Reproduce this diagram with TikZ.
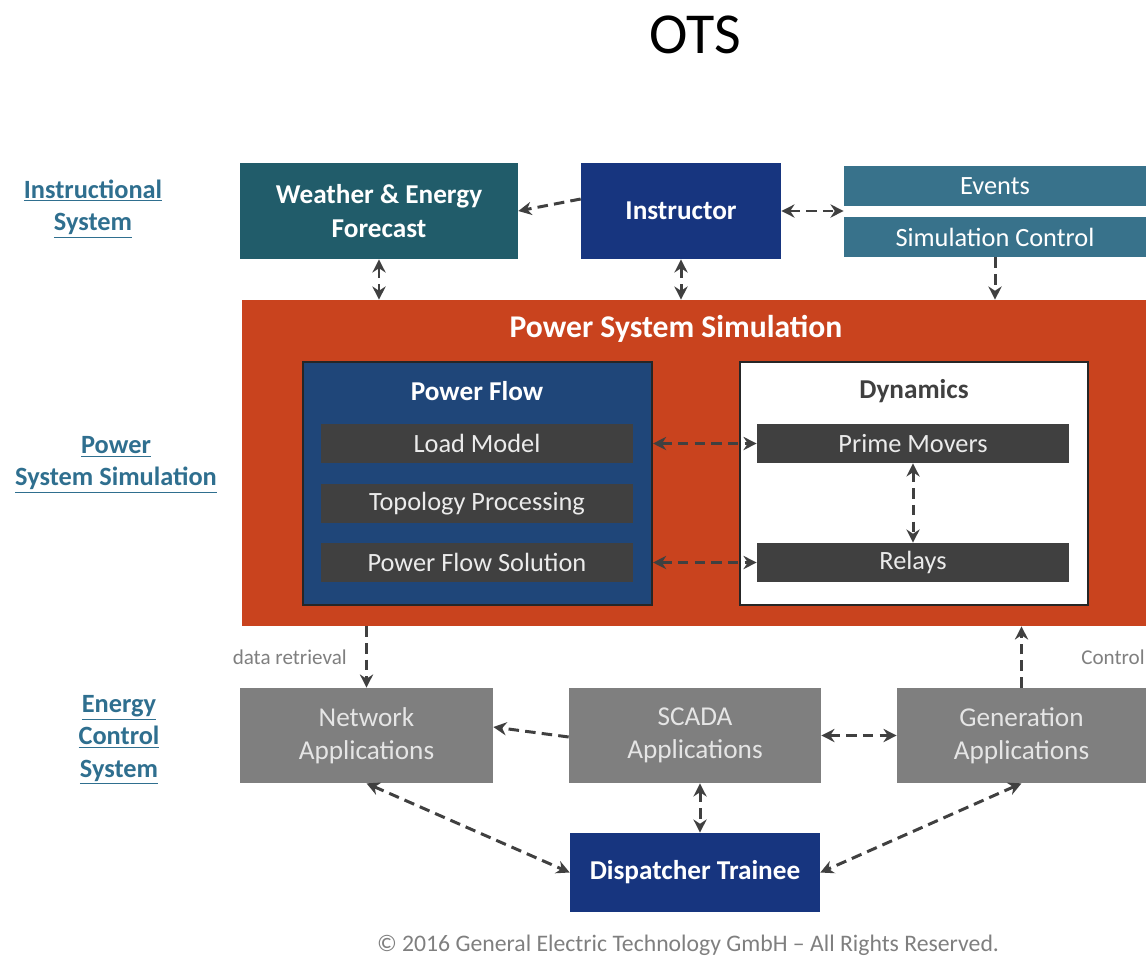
\documentclass[tikz,border=0pt]{standalone}
\usepackage{fontspec}
\setmainfont{Carlito}
\usetikzlibrary{arrows.meta}
\definecolor{wfteal}{HTML}{215C6A}
\definecolor{instblue}{HTML}{17357F}
\definecolor{evteal}{HTML}{38728B}
\definecolor{pssorange}{HTML}{C9431E}
\definecolor{pfblue}{HTML}{1F4679}
\definecolor{darkgray}{HTML}{404040}
\definecolor{appgray}{HTML}{7F7F7F}
\definecolor{sidelabel}{HTML}{2F6F8F}
\tikzset{
  block/.style={rectangle, inner sep=0pt, align=center, text=white, font=\fontsize{15.5}{19}\selectfont\bfseries},
  bar/.style={rectangle, inner sep=0pt, fill=darkgray, text=white!92!black, minimum width=6.24cm, minimum height=0.78cm, font=\fontsize{15}{18}\selectfont},
  app/.style={rectangle, inner sep=0pt, align=center, fill=appgray, text=white!90!black, minimum height=1.9cm, font=\fontsize{15.5}{19}\selectfont},
  side/.style={align=center, text=sidelabel, font=\fontsize{15}{18.5}\selectfont\bfseries},
  link/.style={draw=darkgray, line width=1.7pt, dash pattern=on 6pt off 3.5pt},
  both/.style={link, {Stealth[length=7.5pt,width=7.5pt]}-{Stealth[length=7.5pt,width=7.5pt]}},
  one/.style={link, -{Stealth[length=7.5pt,width=7.5pt]}},
  note/.style={text=appgray, font=\fontsize{12}{14}\selectfont}
}
\begin{document}
\begin{tikzpicture}[x=0.02cm, y=-0.02cm]
  \useasboundingbox (0,0) rectangle (1146,960);
  \node (title) at (695,35) {\fontsize{33}{38}\selectfont OTS};

  % side labels
  \node[side] (lbl1) at (93,209) {\underline{Instructional}\\\underline{System}};
  \node[side] (lbl2) at (116,465) {\underline{Power}\\\underline{System Simulation}};
  \node[side] (lbl3) at (119,740) {\underline{Energy}\\\underline{Control}\\\underline{System}};

  % instructional system
  \node[block, fill=wfteal, minimum width=5.56cm, minimum height=1.92cm] (weather) at (379,211) {Weather \& Energy\\Forecast};
  \node[block, fill=instblue, minimum width=4cm, minimum height=1.92cm] (instr) at (681,211) {Instructor};
  \node[block, fill=evteal, minimum width=6.04cm, minimum height=0.8cm, font=\fontsize{15}{18}\selectfont] (events) at (995,186) {Events};
  \node[block, fill=evteal, minimum width=6.04cm, minimum height=0.8cm, font=\fontsize{15}{18}\selectfont] (simctrl) at (995,237) {Simulation Control};

  % power system simulation
  \node[block, fill=pssorange, minimum width=18.08cm, minimum height=6.52cm] (pss) at (694,463) {};
  \node[block] (psstitle) at (676,329) {\fontsize{18}{22}\selectfont Power System Simulation};
  \node[block, fill=pfblue, draw=black!85, line width=1.2pt, minimum width=6.98cm, minimum height=4.86cm] (pflow) at (477.5,483.5) {};
  \node[block] (pftitle) at (477,391) {Power Flow};
  \node[bar] (load) at (477,443.5) {Load Model};
  \node[bar] (topo) at (477,503.5) {Topology Processing};
  \node[bar] (pfsol) at (477,562.5) {Power Flow Solution};
  \node[block, fill=white, draw=black!85, line width=1.2pt, minimum width=6.96cm, minimum height=4.86cm] (dyn) at (914,483.5) {};
  \node[block, text=darkgray] (dyntitle) at (914,391) {Dynamics};
  \node[bar] (prime) at (913,443.5) {Prime Movers};
  \node[bar] (relays) at (913,562.5) {Relays};

  % energy control system
  \node[app, minimum width=5.06cm] (net) at (366.5,735.5) {Network\\Applications};
  \node[app, minimum width=5.04cm] (scada) at (695,735.5) {SCADA\\Applications};
  \node[app, minimum width=4.98cm] (gen) at (1021.5,735.5) {Generation\\Applications};
  \node[block, fill=instblue, minimum width=5cm, minimum height=1.58cm] (disp) at (695,872.5) {Dispatcher Trainee};

  \node[text=appgray, font=\fontsize{13.5}{16}\selectfont] (copy) at (688,945) {© 2016 General Electric Technology GmbH – All Rights Reserved.};

  % connectors
  \draw[one] ([yshift=0.24cm]instr.west) -- (weather.east);
  \draw[both] (instr.east) -- (instr.east -| simctrl.west);
  \draw[both] (weather.south) -- (weather.south |- pss.north);
  \draw[both] (instr.south) -- (instr.south |- pss.north);
  \draw[one] (simctrl.south) -- (simctrl.south |- pss.north);
  \draw[both] (pflow.east |- load) -- (prime.west);
  \draw[both] (pflow.east |- pfsol) -- (relays.west);
  \draw[both] (prime.south) -- (relays.north);
  \draw[one] (net.north |- pss.south) -- node[note, midway, left=0.25cm] {data retrieval} (net.north);
  \draw[one] (gen.north) -- node[note, midway, right=1.05cm] {Control} (gen.north |- pss.south);
  \draw[one] ([yshift=-0.03cm]scada.west) -- ([yshift=0.17cm]net.east);
  \draw[both] (scada.east) -- (gen.west);
  \draw[both] (net.south) -- (disp.west);
  \draw[both] ([xshift=0.1cm]scada.south) -- ([xshift=0.1cm]disp.north);
  \draw[both] (gen.south) -- (disp.east);
\end{tikzpicture}
\end{document}
